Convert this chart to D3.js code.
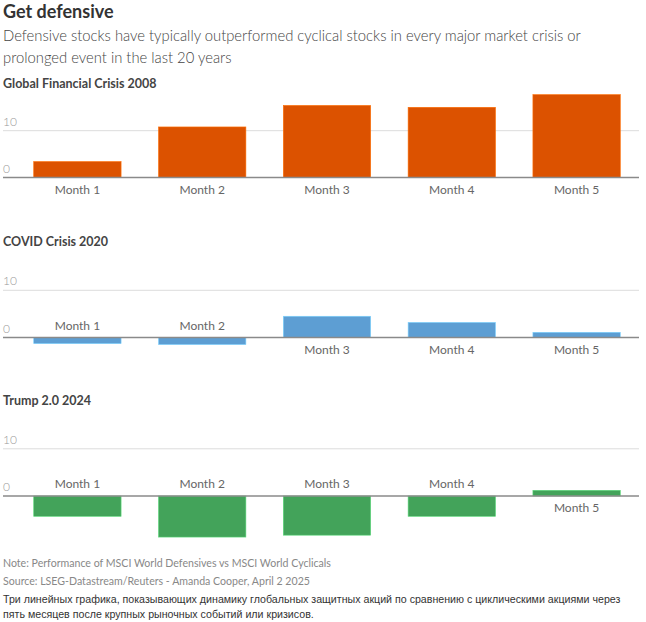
<!DOCTYPE html>
<html>
<head>
<meta charset="utf-8">
<script src="https://cdn.jsdelivr.net/npm/d3@7"></script>
<style>
  body { margin: 0; background: #fff; }
  svg { display: block; }
  text { font-family: Lato, "Noto Sans", sans-serif; }
</style>
</head>
<body>
<svg id="chart" width="646" height="622"></svg>
<script>
const categories = ["Month 1", "Month 2", "Month 3", "Month 4", "Month 5"];
const panelTitles = ["Global Financial Crisis 2008", "COVID Crisis 2020", "Trump 2.0 2024"];
const gfcValues = [3.4, 10.8, 15.4, 15.0, 17.7];
const covidValues = [-1.3, -1.5, 4.5, 3.2, 1.1];
const trumpValues = [-4.3, -8.7, -8.3, -4.3, 1.2];
const tickValues = [0, 10];
const tickLabels = ["0", "10"];
const colors = ["#dc5200", "#5d9ed3", "#43a35a"];

const svg = d3.select("#chart");

svg.append("text").attr("x", 3).attr("y", 18)
  .attr("font-size", 18).attr("font-weight", 700).attr("fill", "#333")
  .text("Get defensive");
svg.append("text").attr("x", 3).attr("y", 41)
  .attr("font-size", 14.8).attr("font-weight", 300).attr("fill", "#444")
  .text("Defensive stocks have typically outperformed cyclical stocks in every major market crisis or");
svg.append("text").attr("x", 3).attr("y", 63)
  .attr("font-size", 14.8).attr("font-weight", 300).attr("fill", "#444")
  .text("prolonged event in the last 20 years");

const x = d3.scaleBand().domain(categories).range([15, 639])
  .paddingInner(0.3).paddingOuter(0.15);

const panels = [
  { title: panelTitles[0], values: gfcValues, color: colors[0], titleY: 88, zero: 177.5, ten: 130.7 },
  { title: panelTitles[1], values: covidValues, color: colors[1], titleY: 246, zero: 337.5, ten: 290.3 },
  { title: panelTitles[2], values: trumpValues, color: colors[2], titleY: 405, zero: 496, ten: 448.8 }
];

panels.forEach(p => {
  const g = svg.append("g");
  const y = d3.scaleLinear().domain([0, 10]).range([p.zero, p.ten]);
  g.append("text").attr("x", 3).attr("y", p.titleY)
    .attr("font-size", 12.5).attr("font-weight", 700).attr("fill", "#444")
    .text(p.title);

  tickValues.forEach((t, i) => {
    if (t !== 0) {
      g.append("line").attr("x1", 3).attr("x2", 639)
        .attr("y1", y(t)).attr("y2", y(t))
        .attr("stroke", "#dcdcdc").attr("stroke-width", 1);
    }
    g.append("text").attr("x", 3).attr("y", y(t) - 5)
      .attr("font-size", 12).attr("font-weight", 300).attr("fill", "#999")
      .text(tickLabels[i]);
  });

  const data = categories.map((c, i) => ({ c, v: p.values[i] }));
  g.selectAll("rect.bar").data(data).join("rect")
    .attr("class", "bar")
    .attr("x", d => x(d.c))
    .attr("width", x.bandwidth())
    .attr("y", d => Math.min(y(d.v), y(0)))
    .attr("height", d => Math.abs(y(d.v) - y(0)))
    .attr("fill", p.color)
    .attr("stroke", d3.color(p.color).brighter(0.8))
    .attr("stroke-width", 0.6);

  g.append("line").attr("x1", 3).attr("x2", 639)
    .attr("y1", y(0)).attr("y2", y(0))
    .attr("stroke", "#8a8a8a").attr("stroke-width", 1.5);

  g.selectAll("text.lab").data(data).join("text")
    .attr("class", "lab")
    .attr("x", d => x(d.c) + x.bandwidth() / 2)
    .attr("y", d => d.v < 0 ? y(0) - 8 : y(0) + 16)
    .attr("text-anchor", "middle")
    .attr("font-size", 12).attr("font-weight", 400).attr("fill", "#666")
    .text(d => d.c);
});

svg.append("text").attr("x", 3).attr("y", 567)
  .attr("font-size", 10.6).attr("font-weight", 400).attr("fill", "#888")
  .text("Note: Performance of MSCI World Defensives vs MSCI World Cyclicals");
svg.append("text").attr("x", 3).attr("y", 585)
  .attr("font-size", 10.6).attr("font-weight", 400).attr("fill", "#888")
  .text("Source: LSEG-Datastream/Reuters - Amanda Cooper, April 2 2025");
svg.append("text").attr("x", 3).attr("y", 603)
  .attr("font-size", 10.65).attr("fill", "#333")
  .style("font-family", "'Liberation Sans Narrow', 'Liberation Sans', sans-serif")
  .text("Три линейных графика, показывающих динамику глобальных защитных акций по сравнению с циклическими акциями через");
svg.append("text").attr("x", 3).attr("y", 618)
  .attr("font-size", 10.65).attr("fill", "#333")
  .style("font-family", "'Liberation Sans Narrow', 'Liberation Sans', sans-serif")
  .text("пять месяцев после крупных рыночных событий или кризисов.");
</script>
</body>
</html>
